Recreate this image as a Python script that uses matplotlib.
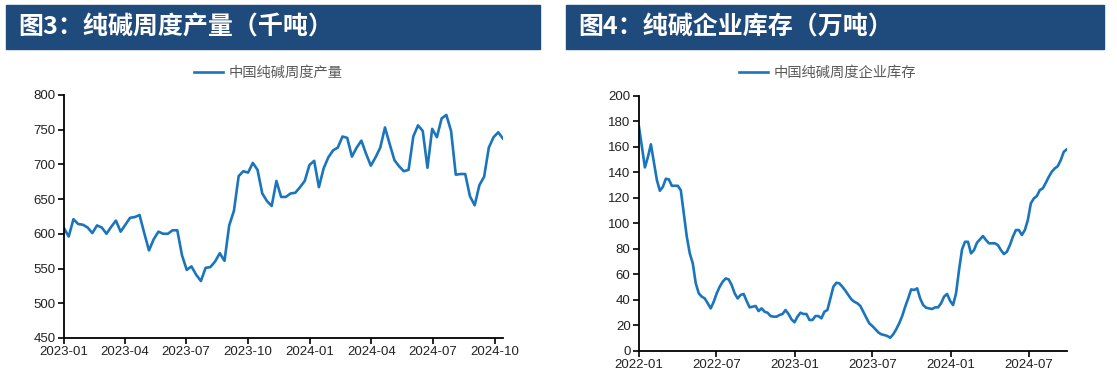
import pandas as pd
import matplotlib.pyplot as plt
import matplotlib.dates as mdates
from matplotlib.patches import Rectangle

plt.rcParams['font.family'] = ['Liberation Sans', 'Noto Sans CJK SC', 'DejaVu Sans']

# 图3：纯碱周度产量（千吨），周度数据，2023-01 起
output_start = '2023-01-01'
output_values = [
    608, 596, 621, 614, 613, 609, 601, 612, 609, 600, 610, 619, 603, 613, 623, 624,
    627, 601, 576, 592, 603, 600, 600, 605, 605, 569, 548, 553, 541, 532, 551, 552,
    560, 572, 561, 612, 633, 683, 690, 688, 702, 692, 658, 647, 640, 676,
    653, 653, 658, 659, 667, 676, 699, 705, 667, 694, 710, 720, 724, 740, 738, 711,
    724, 734, 715, 698, 710, 724, 753, 729, 706, 697, 690, 692, 740, 756, 748, 695,
    751, 739, 766, 771, 748, 685, 686, 686, 654, 641, 670, 682, 724, 739, 746, 737,
]
output_label = '中国纯碱周度产量'
output_title = '图3：纯碱周度产量（千吨）'

# 图4：纯碱企业库存（万吨），周度数据，2022-01 起
stock_start = '2022-01-01'
stock_values = [
    176, 160, 143.9, 152, 162, 148, 134, 125.6, 128.7, 135, 134.5, 129.5, 129.5, 129.5,
    126, 107.9, 89.6, 76.5, 68.7, 53, 45.2, 42.6, 41.2, 37.4, 33.4, 38.6, 45.2, 50.4,
    54.3, 56.9, 56.1, 51.7, 45.2, 41.2, 43.9, 44.7, 39.2, 34.2, 34.7, 35.3, 31.3, 33.4,
    30.8, 30, 27.4, 26.9,
    26.9, 28.2, 29, 32.1, 29, 24.8, 22.5, 26.9, 30, 29, 29, 24.3, 24.3, 27.4, 27.4,
    25.6, 30.8, 32.1, 41.2, 50.4, 53.5, 53, 50.4, 47.3, 43.9, 40.5, 38.6, 37.4, 35.3,
    30.8, 26.1, 21.7, 19.6, 17.2, 14.6, 13.1, 12.5, 11.8, 10.4, 13.1, 17, 21.7, 27.4,
    34.7, 41.2, 48.3,
    47.8, 49.1, 41.2, 36, 33.9, 33.4, 32.9, 34.2, 34.2, 37.4, 42.6, 44.7, 39.4, 36,
    45.2, 63.5, 79.6, 85.6, 85.6, 76.5, 79.1, 84.9, 87.5, 90.1, 87, 84.4, 84.4, 84.4,
    83, 79.1, 76, 77.8, 83, 89.6, 94.8, 94.8, 90.9, 94.8, 102.6, 115.7, 119.6, 121.4,
    126.1, 127.5, 131.8, 136.5, 140.5, 143.1, 144.9, 149.6, 156.1, 158,
]
stock_label = '中国纯碱周度企业库存'
stock_title = '图4：纯碱企业库存（万吨）'

LINE_COLOR = '#1A75BC'
BANNER_COLOR = '#1F4A7C'


def style_axis(ax, dates, values, label, months, ylim, yticks, legend_xy):
    ax.plot(dates, values, color=LINE_COLOR, lw=1.9, label=label)
    ax.set_xlim(dates[0], dates[-1])
    ax.set_ylim(*ylim)
    ax.set_yticks(yticks)
    ax.xaxis.set_major_locator(mdates.MonthLocator(bymonth=months))
    ax.xaxis.set_major_formatter(mdates.DateFormatter('%Y-%m'))
    for side in ['top', 'right']:
        ax.spines[side].set_visible(False)
    for side in ['left', 'bottom']:
        ax.spines[side].set_linewidth(1.3)
        ax.spines[side].set_color('black')
    ax.tick_params(axis='both', direction='out', length=4, width=1.2,
                   labelsize=9.5, labelcolor='#222222', pad=2)
    ax.legend(loc='center', bbox_to_anchor=legend_xy, bbox_transform=ax.figure.transFigure,
              frameon=False, handlelength=2.0, handletextpad=0.4,
              prop={'family': ['Noto Sans CJK SC'], 'size': 10.3}, labelcolor='#595959')


fig = plt.figure(figsize=(11.17, 3.86), dpi=100)

# title banners
for x0, w, title in [(0.0054, 0.478, output_title), (0.5067, 0.4816, stock_title)]:
    fig.patches.append(Rectangle((x0, 0.873), w, 0.114, transform=fig.transFigure,
                                 color=BANNER_COLOR, zorder=0))
    fig.text(x0 + 0.011, 0.930, title, color='white', fontsize=18, fontweight='bold',
             family=['Noto Sans CJK SC'], va='center', ha='left')

ax1 = fig.add_axes([0.0573, 0.1244, 0.393, 0.63])
dates1 = pd.date_range(output_start, periods=len(output_values), freq='7D')
style_axis(ax1, dates1, output_values, output_label, [1, 4, 7, 10],
           (450, 800), range(450, 801, 50), (0.240, 0.811))

ax2 = fig.add_axes([0.572, 0.0907, 0.383, 0.661])
dates2 = pd.date_range(stock_start, periods=len(stock_values), freq='7D')
style_axis(ax2, dates2, stock_values, stock_label, [1, 7],
           (0, 200), range(0, 201, 20), (0.741, 0.811))

fig.savefig('out.png', dpi=100)
